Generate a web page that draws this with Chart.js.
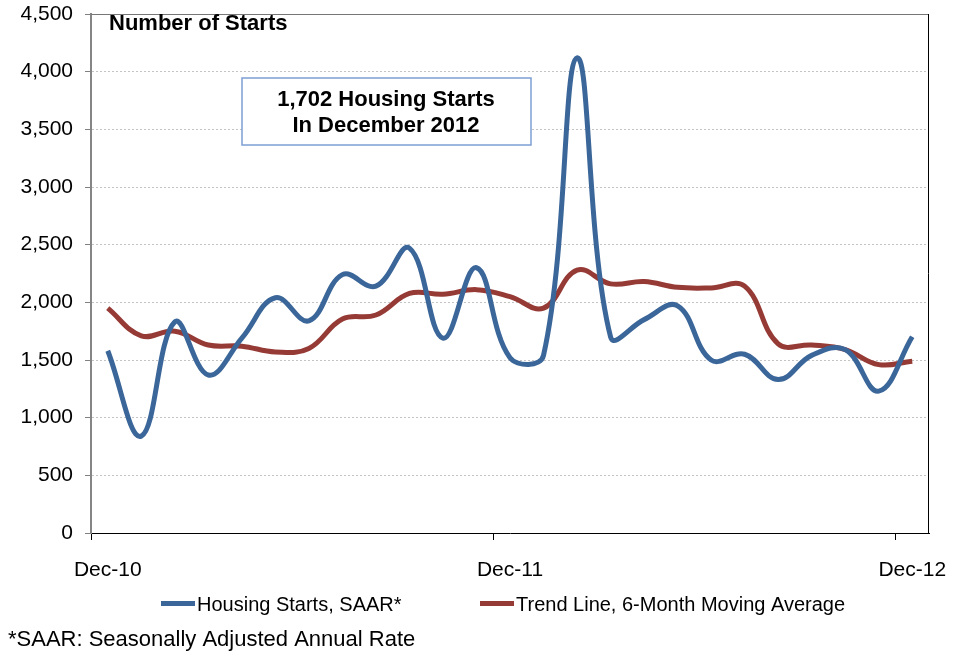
<!DOCTYPE html>
<html>
<head>
<meta charset="utf-8">
<script src="https://cdn.jsdelivr.net/npm/chart.js@4.4.1/dist/chart.umd.min.js"></script>
<style>
  html, body { margin: 0; padding: 0; background: #fff; }
  #wrap { width: 954px; height: 657px; position: relative; }
</style>
</head>
<body>
<div id="wrap"><canvas id="startsChart"></canvas></div>
<script>
const months = [
    "Dec-10", "Jan-11", "Feb-11", "Mar-11", "Apr-11", "May-11", "Jun-11",
    "Jul-11", "Aug-11", "Sep-11", "Oct-11", "Nov-11", "Dec-11",
    "Jan-12", "Feb-12", "Mar-12", "Apr-12", "May-12", "Jun-12",
    "Jul-12", "Aug-12", "Sep-12", "Oct-12", "Nov-12", "Dec-12"
];

const housingStarts = [
    1580, 840, 1830, 1370, 1690, 2040, 1840, 2240, 2140, 2470, 1690, 2300,
    1520, 1540, 4120, 1700, 1850, 1970, 1500, 1550, 1330, 1540, 1590, 1230, 1702
];

const trendLine = [
    1950, 1710, 1750, 1630, 1620, 1570, 1600, 1855, 1890, 2077, 2070, 2110,
    2050, 1950, 2280, 2160, 2180, 2130, 2125, 2140, 1640, 1630, 1590, 1460, 1490
];

const yTicks = { min: 0, max: 4500, step: 500 };

const FONT = "'Liberation Sans', Arial, sans-serif";

// legend slots: where each series' key starts
const legendX = [161, 480];

const overlay = {
    id: "overlay",
    afterDraw(chart) {
        const ctx = chart.ctx;
        const area = chart.chartArea;

        ctx.save();

        // plot border (top + right), left axis is drawn by the scale
        ctx.lineWidth = 1;
        ctx.strokeStyle = "#777";
        ctx.beginPath();
        ctx.moveTo(area.left, area.top + 0.5);
        ctx.lineTo(area.right, area.top + 0.5);
        ctx.stroke();
        ctx.strokeStyle = "#000";
        ctx.beginPath();
        ctx.moveTo(area.right - 0.5, area.top);
        ctx.lineTo(area.right - 0.5, area.bottom);
        ctx.stroke();

        ctx.fillStyle = "#000";
        ctx.textBaseline = "middle";

        ctx.font = "bold 22px " + FONT;
        ctx.textAlign = "left";
        ctx.fillText("Number of Starts", 109, 24);

        // callout box
        ctx.fillStyle = "#fff";
        ctx.fillRect(242, 78, 289, 67);
        ctx.strokeStyle = "#7c9fd4";
        ctx.lineWidth = 1.5;
        ctx.strokeRect(242, 78, 289, 67);

        ctx.fillStyle = "#000";
        ctx.textAlign = "center";
        ctx.fillText("1,702 Housing Starts", 386, 100);
        ctx.fillText("In December 2012", 386, 126);

        // legend
        ctx.font = "20px " + FONT;
        ctx.textAlign = "left";
        chart.data.datasets.forEach((ds, i) => {
            const x = legendX[i];
            ctx.fillStyle = ds.borderColor;
            ctx.fillRect(x, 601, 34, 5);
            ctx.fillStyle = "#000";
            ctx.fillText(ds.label, x + 36, 605);
        });

        ctx.font = "22px " + FONT;
        ctx.fillText("*SAAR: Seasonally Adjusted Annual Rate", 8, 640);

        ctx.restore();
    }
};

new Chart(document.getElementById("startsChart"), {

    type: "line",

    data: {

        labels: months,

        datasets: [

            {
                label: "Housing Starts, SAAR*",
                data: housingStarts,
                borderColor: "#3b6699",
                backgroundColor: "#3b6699",
                borderWidth: 5,
                pointRadius: 0,
                tension: .4,
                fill: false
            },

            {
                label: "Trend Line, 6-Month Moving Average",
                data: trendLine,
                borderColor: "#963a36",
                backgroundColor: "#963a36",
                borderWidth: 5,
                pointRadius: 0,
                tension: .4,
                fill: false
            }

        ]

    },

    options: {

        responsive: true,
        maintainAspectRatio: false,
        animation: false,

        layout: {
            padding: { top: 14, right: 25, left: 0, bottom: 77 }
        },

        plugins: {

            legend: { display: false },

            tooltip: { enabled: false }

        },

        scales: {

            x: {
                type: "category",
                offset: true,
                afterFit: scale => {
                    scale.height = 47;
                    scale.paddingLeft = 0;
                    scale.paddingRight = 0;
                },
                grid: {
                    offset: true,
                    drawOnChartArea: false,
                    tickLength: 7,
                    tickColor: c => (c.index % 12 === 0 ? "#000" : "rgba(0,0,0,0)")
                },
                border: { color: "#000", width: 1 },
                ticks: {
                    autoSkip: false,
                    maxRotation: 0,
                    padding: 18,
                    color: "#000",
                    font: { family: FONT, size: 21 },
                    callback: (v, i) => (i % 12 === 0 ? months[i] : "")
                }
            },

            y: {
                min: yTicks.min,
                max: yTicks.max,
                afterFit: scale => {
                    scale.width = 91;
                    scale.paddingTop = 0;
                    scale.paddingBottom = 0;
                },
                grid: {
                    color: c => (c.index === 0 ? "rgba(0,0,0,0)" : "#c4c4c4"),
                    lineWidth: 1,
                    tickLength: 6,
                    tickColor: "#808080"
                },
                border: { color: "#858585", width: 2, dash: [2, 2] },
                ticks: {
                    stepSize: yTicks.step,
                    padding: 12,
                    color: "#000",
                    font: { family: FONT, size: 21 },
                    callback: value => value.toLocaleString("en-US")
                }
            }

        }

    },

    plugins: [overlay]

});
</script>
</body>
</html>
